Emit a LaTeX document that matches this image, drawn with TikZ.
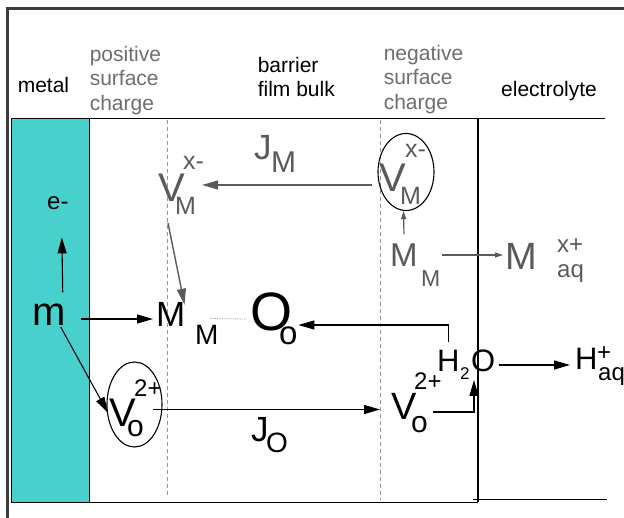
\documentclass[tikz,border=0pt]{standalone}
\usepackage{fontspec}
\setmainfont{Liberation Sans}
\usepackage{xcolor}
\definecolor{metalcyan}{RGB}{72,209,204}
\definecolor{framegray}{RGB}{60,60,60}
\definecolor{labelgray}{RGB}{110,110,110}
\definecolor{specgray}{RGB}{90,90,90}
\definecolor{dashgray}{RGB}{150,150,150}
\usetikzlibrary{arrows.meta, shapes.geometric}

\tikzset{
  sp/.style={font=\fontsize{#1}{#1}\selectfont, inner sep=0pt, anchor=base west},
  hdr/.style={font=\fontsize{21}{24.5}\selectfont, inner sep=0pt, align=left, anchor=north west},
  arr/.style={-{Triangle[length=16pt,width=9pt]}, line width=1.1pt},
  garr/.style={arr, specgray, line width=1.4pt},
  sarr/.style={-{Triangle[length=8pt,width=5pt]}, specgray, line width=1.2pt},
  ring/.style={draw, ellipse, inner sep=0pt, line width=1.1pt},
  sheetline/.style={dashgray, line width=1pt, dash pattern=on 4pt off 3pt}
}

\begin{document}
\begin{tikzpicture}[x=1pt, y=-1pt]
      \useasboundingbox (0,0) rectangle (624,518);
      % Outer frame
      \draw[framegray, line width=2.5pt] (7.5,518) -- (7.5,8.5) -- (624,8.5);
      % Metal, film and electrolyte borders
      \draw[fill=metalcyan, line width=1pt] (11.7,118.3) rectangle (89,502.3);
      \draw[line width=1.1pt] (89,118.3) -- (605,118.3);
      \draw[line width=1.1pt] (89,502.3) -- (478,502.3);
      \draw[line width=1.1pt] (478,118.3) -- (478,502.3);
      \draw[line width=1.1pt] (473,499.5) -- (607,499.5);
      % Surface charge planes
      \draw[sheetline] (167,120) -- (167,498);
      \draw[sheetline] (380,120) -- (380,500);
      % Headers
      \node[hdr, anchor=base west] (metal) at (17.6,93) {metal};
      \node[hdr, labelgray] (poscharge) at (89.6,46) {positive\\surface\\charge};
      \node[hdr] (bulk) at (257.6,57) {barrier\\film bulk};
      \node[hdr, labelgray] (negcharge) at (383.6,45) {negative\\surface\\charge};
      \node[hdr, anchor=base west] (electrolyte) at (501,97) {electrolyte};
      % Metal side
      \node[sp=24] (eminus) at (47,210) {e-};
      \node[sp=40] (m) at (32,326) {m};
      % Cation vacancy, left
      \node[sp=40, specgray] (VMa) at (158,202) {V};
      \node[sp=25, specgray] (VMa-sub) at (175,215) {M};
      \node[sp=25, specgray] (VMa-sup) at (183,170) {x-};
      % Cation vacancy flux
      \node[sp=35, specgray] (JM) at (254,160) {J};
      \node[sp=30, specgray] (JM-sub) at (271,173) {M};
      % Cation vacancy, right (circled)
      \node[ring, minimum width=56pt, minimum height=77pt] (VMbE) at (406,172) {};
      \node[sp=40, specgray] (VMb) at (379,192) {V};
      \node[sp=25, specgray] (VMb-sub) at (400,205) {M};
      \node[sp=25, specgray] (VMb-sup) at (405,158) {x-};
      % Cation on cation site, right
      \node[sp=33, specgray] (MMb) at (390,267) {M};
      \node[sp=23, specgray] (MMb-sub) at (421,287) {M};
      % Dissolved cation
      \node[sp=38, specgray] (Maq) at (505,270) {M};
      \node[sp=24, specgray] (Maq-sup) at (557,253) {x+};
      \node[sp=24, specgray] (Maq-sub) at (557,278) {aq};
      % Cation on cation site, left
      \node[sp=35] (MMa) at (156,327) {M};
      \node[sp=28] (MMa-sub) at (195,345) {M};
      % Oxygen on oxygen site
      \node[sp=54] (Oo) at (250,331) {O};
      \node[sp=33] (Oo-sub) at (279,345) {o};
      % Oxygen vacancy, left (circled)
      \node[ring, minimum width=55pt, minimum height=85pt] (VOaE) at (134.5,404.5) {};
      \node[sp=40] (VOa) at (109,427) {V};
      \node[sp=30] (VOa-sub) at (127,437) {o};
      \node[sp=24] (VOa-sup) at (134,397) {2+};
      % Oxygen vacancy flux
      \node[sp=35] (JO) at (251,442) {J};
      \node[sp=28] (JO-sub) at (266,453) {O};
      % Oxygen vacancy, right
      \node[sp=38] (VOb) at (391,420) {V};
      \node[sp=30] (VOb-sub) at (411,432) {o};
      \node[sp=24] (VOb-sup) at (414,390) {2+};
      % Water and proton
      \node[sp=31] (H2O-H) at (437,372) {H};
      \node[sp=17] (H2O-2) at (460,380) {2};
      \node[sp=31] (H2O-O) at (471,372) {O};
      \node[sp=31] (Haq) at (575,370) {H};
      \node[sp=24] (Haq-sup) at (597,361) {+};
      \node[sp=24] (Haq-sub) at (598,381) {aq};
      % Arrows from the metal
      \draw[arr] ([xshift=-3pt,yshift=12pt]m.north east) -- ([xshift=4pt,yshift=-27pt]eminus.south);
      \draw[arr] ([xshift=15pt,yshift=7pt]m.base east) -- ([xshift=-3pt,yshift=8pt]MMa.base west);
      \draw[arr] ([xshift=-5pt,yshift=-1pt]m.base east) -- ([xshift=-1pt,yshift=14pt]VOa.base west);
      % Cation vacancy arrows
      \draw[garr] ([xshift=-7pt,yshift=7pt]VMb.base west) -- ([xshift=17pt,yshift=17pt]VMa.base east);
      \draw[garr] ([xshift=10pt,yshift=-21pt]VMa.base west) -- ([xshift=-1pt,yshift=-2pt]MMa.north east);
      \draw[sarr] ([yshift=10pt]MMb.north) -- ([xshift=-2.5pt]VMbE.south);
      \draw[sarr] ([xshift=24pt,yshift=12pt]MMb.base east) -- ([xshift=-2pt,yshift=15pt]Maq.base west);
      % Oxygen arrows
      \draw[densely dotted, dashgray, line width=0.8pt] ([xshift=3pt,yshift=7pt]MMa-sub.north) -- ([xshift=-3pt,yshift=12pt]Oo.base west);
      \draw[arr] ([yshift=8pt]H2O-H.north) |- ([xshift=6pt,yshift=6pt]Oo.base east);
      \draw[arr] ([xshift=3pt,yshift=7pt]H2O-O.base east) -- ([xshift=-5pt,yshift=5pt]Haq.base west);
      \draw[arr] ([xshift=16pt,yshift=8pt]VOb.base east) -| ([xshift=3pt,yshift=-8pt]H2O-O.base west);
      \draw[arr] ([xshift=17pt,yshift=17.5pt]VOa.base east) -- ([xshift=-11pt,yshift=10.5pt]VOb.base west);
    \end{tikzpicture}
\end{document}
